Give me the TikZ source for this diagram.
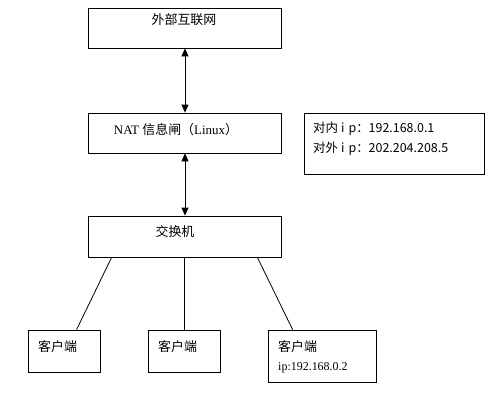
\documentclass[tikz,border=0pt]{standalone}
\usepackage{fontspec}
\setmainfont{Liberation Serif}
\newfontfamily\cjk{Noto Sans CJK SC}
\usetikzlibrary{arrows.meta}
\begin{document}
\begin{tikzpicture}[x=1bp,y=-1bp,
  box/.style={draw,line width=0.8bp,inner sep=0pt},
  txt/.style={inner sep=0pt,font=\fontsize{13}{15}\selectfont},
  link/.style={line width=0.8bp},
  dbl/.style={line width=0.8bp,{Triangle[length=8bp,width=7bp]}-{Triangle[length=8bp,width=7bp]}}]
\useasboundingbox[fill=white] (0,0) rectangle (496,395);
% boxes
\node[box,minimum width=193bp,minimum height=40bp] (top) at (184.5,28) {};
\node[box,minimum width=193bp,minimum height=40bp] (nat) at (184.5,133) {};
\node[box,minimum width=180bp,minimum height=61bp] (ip) at (394,143.5) {};
\node[box,minimum width=193bp,minimum height=41bp] (sw) at (184.5,236.5) {};
\node[box,minimum width=72bp,minimum height=42bp] (c1) at (64,351) {};
\node[box,minimum width=72bp,minimum height=42bp] (c2) at (184,351) {};
\node[box,minimum width=108bp,minimum height=52bp] (c3) at (322,356) {};
% texts
\node[txt] (ttop) at (184,20) {\cjk 外部互联网};
\node[txt] (tnat) at (176,130) {NAT {\cjk 信息闸（}Linux{\cjk ）}};
\node[txt,anchor=west,font=\fontsize{12.5}{15}\selectfont\cjk] (tip1) at (313,129) {对内\hspace{3bp}i\hspace{4bp}p：192.168.0.1};
\node[txt,anchor=west,font=\fontsize{12.5}{15}\selectfont\cjk] (tip2) at (313,149) {对外\hspace{3bp}i\hspace{4bp}p：202.204.208.5};
\node[txt] (tsw) at (175,232) {\cjk 交换机};
\node[txt,anchor=west] (tc1) at (38,347) {\cjk 客户端};
\node[txt,anchor=west] (tc2) at (158,347) {\cjk 客户端};
\node[txt,anchor=west] (tc3) at (278,347) {\cjk 客户端};
\node[txt,anchor=west,font=\fontsize{12}{14}\selectfont] (tc3ip) at (278,368) {ip:192.168.0.2};
% connectors
\draw[dbl] ([xshift=0.5bp]top.south) -- ([xshift=0.5bp]nat.north);
\draw[dbl] ([xshift=0.5bp]nat.south) -- ([xshift=0.5bp]sw.north);
\draw[link] ([xshift=24bp]sw.south west) -- ([xshift=49bp]c1.north west);
\draw[link] (c2.north) -- (c2.north |- sw.south);
\draw[link] ([xshift=-24bp]sw.south east) -- ([xshift=25bp]c3.north west);
\end{tikzpicture}
\end{document}
